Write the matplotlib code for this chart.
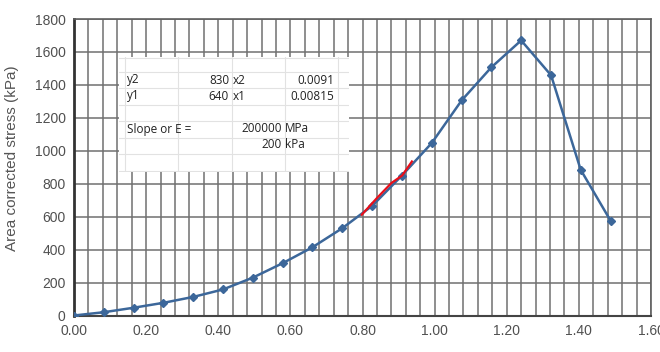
import numpy as np
import matplotlib
matplotlib.use("Agg")
import matplotlib.pyplot as plt

# strain (x) and area corrected stress (kPa)
strain = [0.0, 0.083, 0.165, 0.248, 0.331, 0.413, 0.496, 0.579, 0.661,
          0.744, 0.827, 0.909, 0.992, 1.075, 1.157, 1.240, 1.323, 1.405, 1.488]
stress = [0, 20, 47, 77, 113, 158, 230, 318, 414,
          530, 666, 849, 1047, 1306, 1506, 1670, 1458, 885, 575]

# red segment used for the slope
slope_x = [0.798, 0.84, 0.88, 0.91, 0.937]
slope_y = [612, 713, 804, 850, 935]

x_ticks = [0.0, 0.2, 0.4, 0.6, 0.8, 1.0, 1.2, 1.4, 1.6]
y_ticks = [0, 200, 400, 600, 800, 1000, 1200, 1400, 1600, 1800]

# table contents: (text, x px, y px, align)
table_cells = [
    ("y2", 127, 80, "left"), ("830", 229, 80, "right"), ("x2", 233, 80, "left"),
    ("0.0091", 334, 80, "right"),
    ("y1", 127, 96, "left"), ("640", 229, 96, "right"), ("x1", 233, 96, "left"),
    ("0.00815", 334, 96, "right"),
    ("Slope or E =", 127, 129, "left"), ("200000", 282, 129, "right"),
    ("MPa", 285, 129, "left"),
    ("200", 282, 145, "right"), ("kPa", 285, 145, "left"),
]

W, H = 660, 352
fig = plt.figure(figsize=(6.6, 3.52), dpi=100)
ax = fig.add_axes([74 / W, 1 - 315.5 / H, 577 / W, 296.5 / H])

grid_col = "#707070"
for xv in np.arange(0, 1.6001, 0.04):
    ax.axvline(xv, color=grid_col, lw=1.1, zorder=1)
for yv in y_ticks:
    ax.axhline(yv, color=grid_col, lw=1.1, zorder=1)

ax.plot(strain, stress, color="#3c679a", lw=1.8, marker="D", ms=4.5, zorder=3)
ax.plot(slope_x, slope_y, color="#e8101a", lw=1.6, zorder=4)

ax.set_xlim(0, 1.6)
ax.set_ylim(0, 1800)
ax.set_xticks(x_ticks)
ax.set_xticklabels([f"{v:.2f}" for v in x_ticks])
ax.set_yticks(y_ticks)
ax.tick_params(length=0, labelsize=10, colors="#505050", pad=6)
for lab in ax.get_xticklabels() + ax.get_yticklabels():
    lab.set_fontfamily("Liberation Sans")
for s in ax.spines.values():
    s.set_color("#606060")
    s.set_linewidth(1.2)
ax.spines["left"].set_color("#333333")
ax.spines["left"].set_linewidth(2)
ax.spines["bottom"].set_color("#444444")
ax.spines["bottom"].set_linewidth(1.5)

fig.text(12 / W, 1 - 158 / H, "Area corrected stress (kPa)", rotation=90,
         ha="center", va="center", fontsize=11, color="#555555",
         family="Liberation Sans")

# pasted spreadsheet box
tx0, tx1, ty0, ty1 = 119, 349, 57, 172
tab = fig.add_axes([tx0 / W, 1 - ty1 / H, (tx1 - tx0) / W, (ty1 - ty0) / H])
tab.set_xlim(tx0, tx1)
tab.set_ylim(ty1, ty0)
tab.set_facecolor("white")
tab.set_xticks([])
tab.set_yticks([])
for s in tab.spines.values():
    s.set_visible(False)
for rx in [125, 178, 232, 285, 338]:
    tab.axvline(rx, color="#e2e2e2", lw=0.8)
for ry in [58, 72, 88, 104.5, 121, 137.5, 154, 170.5]:
    tab.axhline(ry, color="#e2e2e2", lw=0.8)
for txt, px, py, al in table_cells:
    tab.text(px, py, txt, ha=al, va="center", fontsize=8.5, color="#222222",
             family="Open Sans")

fig.savefig("out.png", dpi=100)
